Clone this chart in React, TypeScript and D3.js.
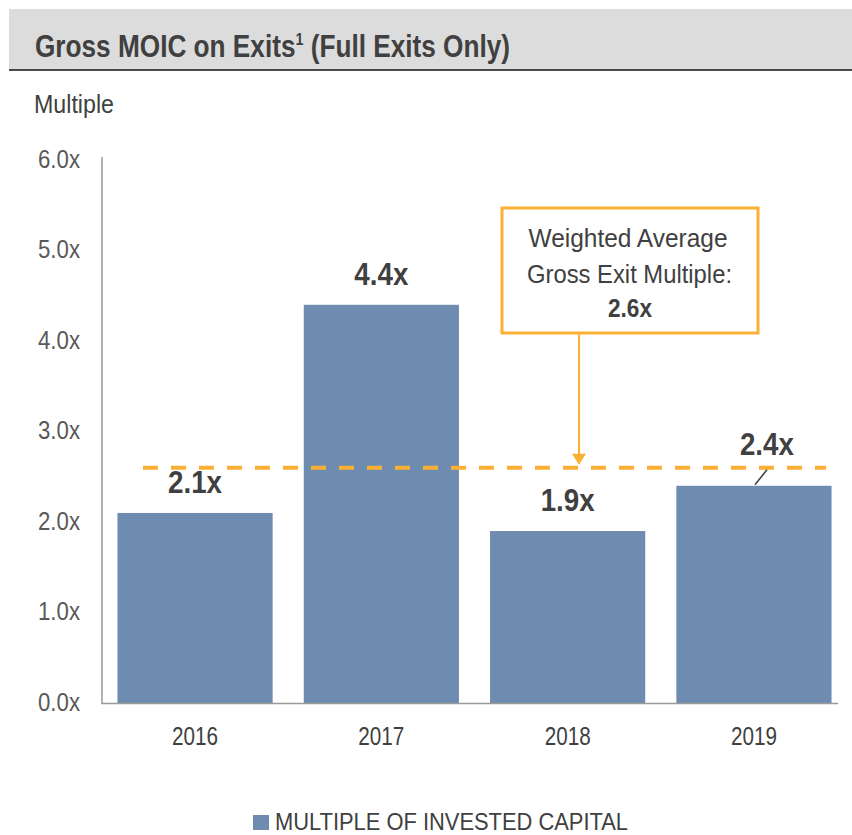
import React from "react";
import * as d3 from "d3";

const categories: string[] = ["2016", "2017", "2018", "2019"];
const values: number[] = [2.1, 4.4, 1.9, 2.4];
const valueLabels: string[] = ["2.1x", "4.4x", "1.9x", "2.4x"];
const yTicks: number[] = [0, 1, 2, 3, 4, 5, 6];
const averageValue = 2.6;
const averageLabel = "2.6x";
const annotationLines: string[] = ["Weighted Average", "Gross Exit Multiple:"];
const titleText = "Gross MOIC on Exits";
const seriesName = "MULTIPLE OF INVESTED CAPITAL";

const FONT = "'Liberation Sans', Arial, sans-serif";
const BAR = "#6d8cb0";
const ORANGE = "#fbb034";
const DARK = "#404040";
const TICK = "#595959";

type TProps = {
  x: number; y: number; size: number; len?: number; bold?: boolean;
  anchor?: "start" | "middle" | "end"; fill?: string; children: React.ReactNode;
};
function T({ x, y, size, len, bold, anchor = "start", fill = DARK, children }: TProps) {
  return (
    <text x={x} y={y} fontSize={size} fontWeight={bold ? "bold" : "normal"} textAnchor={anchor}
      fill={fill} textLength={len} lengthAdjust={len ? "spacingAndGlyphs" : undefined}>
      {children}
    </text>
  );
}

export default function App() {
  const W = 852, H = 835;
  const x = d3.scaleBand<string>().domain(categories).range([102, 847]).paddingInner(0.167).paddingOuter(0.083);
  const y = d3.scaleLinear().domain([0, 6]).range([703, 160]);
  const bw = x.bandwidth();
  const avgY = y(averageValue);
  const arrowX = 579;
  const boxTop = 208, boxBottom = 333;
  const lastX = x(categories[3])! + bw / 2;

  return (
    <svg width={W} height={H} style={{ position: "absolute", left: 0, top: 0 }} fontFamily={FONT}>
      <rect x={0} y={0} width={W} height={H} fill="#fff" />
      {/* title bar */}
      <rect x={9} y={9} width={W - 9} height={61} fill="#dcdcdc" />
      <line x1={9} x2={W} y1={70} y2={70} stroke="#4a4a4a" strokeWidth={2} />
      <g transform="translate(35,57) scale(0.845,1)">
        <text x={0} y={0} fontSize={31} fontWeight="bold" fill={DARK}>
          {titleText}
          <tspan fontSize={17} dy={-12}>1</tspan>
          <tspan fontSize={31} dy={12}> (Full Exits Only)</tspan>
        </text>
      </g>
      <T x={34} y={113} size={25.5} len={80}>Multiple</T>

      {/* y ticks */}
      {yTicks.map((t) => (
        <T key={t} x={80} y={y(t) + 7.5} size={25.5} len={42} anchor="end" fill={TICK}>
          {d3.format(".1f")(t) + "x"}
        </T>
      ))}

      {/* bars */}
      {categories.map((c, i) => (
        <rect key={c} x={x(c)!} y={y(values[i])} width={bw} height={y(0) - y(values[i])} fill={BAR} />
      ))}

      {/* axes */}
      <line x1={102} x2={102} y1={157} y2={704} stroke="#9a9a9a" strokeWidth={1.5} />
      <line x1={101} x2={838} y1={703.5} y2={703.5} stroke="#9a9a9a" strokeWidth={1.5} />

      {/* category labels */}
      {categories.map((c) => (
        <T key={c} x={x(c)! + bw / 2} y={745} size={26} len={46} anchor="middle">{c}</T>
      ))}

      {/* average dashed line */}
      <line x1={143} x2={826} y1={avgY} y2={avgY} stroke={ORANGE} strokeWidth={4} strokeDasharray="15 13" />

      {/* value labels */}
      {categories.map((c, i) => {
        const last = i === categories.length - 1;
        const cx = x(c)! + bw / 2 + (last ? 13 : 0);
        const ly = last ? y(values[i]) - 31 : y(values[i]) - 20;
        return (
          <T key={c} x={cx} y={ly} size={31} len={54} bold anchor="middle">{valueLabels[i]}</T>
        );
      })}
      {/* leader line for last label */}
      <line x1={lastX + 13} y1={y(values[3]) - 16} x2={lastX + 1} y2={y(values[3]) - 1} stroke={DARK} strokeWidth={1.5} />

      {/* annotation box */}
      <rect x={502} y={boxTop} width={256} height={boxBottom - boxTop} fill="#fff" stroke={ORANGE} strokeWidth={3} />
      <T x={628} y={246.5} size={26} len={199} anchor="middle">{annotationLines[0]}</T>
      <T x={629.5} y={283} size={26} len={205} anchor="middle">{annotationLines[1]}</T>
      <T x={630} y={316.5} size={26.5} len={44} bold anchor="middle">{averageLabel}</T>
      <line x1={arrowX} x2={arrowX} y1={boxBottom + 1.5} y2={avgY - 12} stroke={ORANGE} strokeWidth={2} />
      <path d={`M${arrowX - 7},${avgY - 14} L${arrowX + 7},${avgY - 14} L${arrowX},${avgY - 3} Z`} fill={ORANGE} />

      {/* legend */}
      <rect x={253} y={815} width={16} height={15} fill={BAR} />
      <T x={275} y={830} size={24} len={353}>{seriesName}</T>
    </svg>
  );
}
